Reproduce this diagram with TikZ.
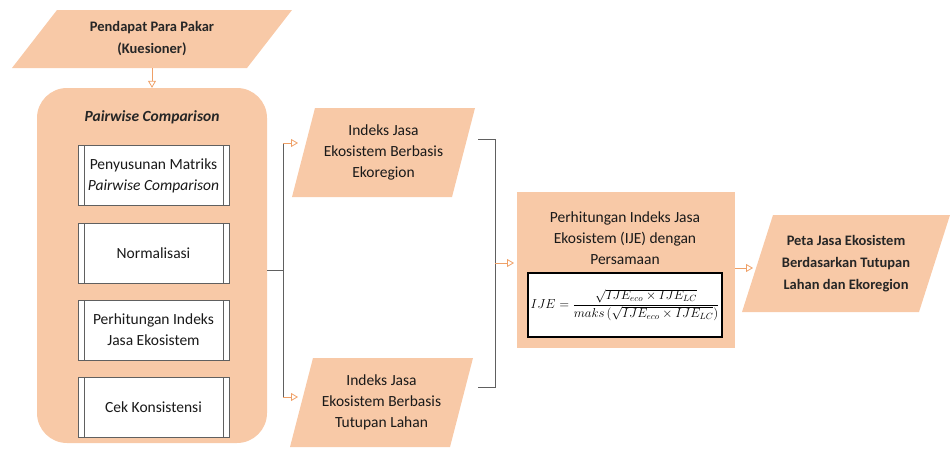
\documentclass[tikz,border=0pt]{standalone}
\usepackage{fontspec}
\setmainfont{Carlito}
\usetikzlibrary{arrows.meta}
\definecolor{peach}{HTML}{F8C9A7}
\definecolor{arrowor}{HTML}{EFA067}
\definecolor{lin}{HTML}{606060}
\begin{document}
\begin{tikzpicture}[x=1pt,y=-1pt,
  txt/.style={font=\fontsize{15.5}{21}\selectfont, align=center, text=black!90},
  btxt/.style={font=\fontsize{14.5}{22}\selectfont\bfseries, align=center, text=black!85},
  para/.style n args={3}{minimum width=#1, minimum height=#2, inner sep=0pt,
    path picture={\fill[peach] ([xshift=#3]path picture bounding box.north west)
      -- (path picture bounding box.north east)
      -- ([xshift=-#3]path picture bounding box.south east)
      -- (path picture bounding box.south west) -- cycle;}},
  procbox/.style={draw=lin, line width=0.6pt, fill=white, minimum width=151pt, minimum height=60pt, inner sep=0pt, txt,
    path picture={\draw[lin, line width=0.6pt] ([xshift=6pt]path picture bounding box.north west) -- ([xshift=6pt]path picture bounding box.south west);
      \draw[lin, line width=0.6pt] ([xshift=-6pt]path picture bounding box.north east) -- ([xshift=-6pt]path picture bounding box.south east);}},
  conn/.style={lin, line width=0.8pt},
  arr/.style={arrowor, line width=0.8pt, -{Triangle[open, length=7pt, width=8pt]}}
]
\useasboundingbox (0,0) rectangle (950,450);

% top input
\node[para={280pt}{58pt}{45pt}, btxt] (p1) at (152,39) {Pendapat Para Pakar\\(Kuesioner)};

% pairwise comparison group
\node[fill=peach, rounded corners=30pt, minimum width=230pt, minimum height=355pt, inner sep=0pt] (pc) at (152,265.5) {};
\node[font=\fontsize{15.5}{17}\selectfont\bfseries\itshape, text=black!85] (pct) at (152,117) {Pairwise Comparison};
\node[procbox] (s1) at (153.5,175.5) {Penyusunan Matriks\\\textit{Pairwise Comparison}};
\node[procbox] (s2) at (153.5,253) {Normalisasi};
\node[procbox] (s3) at (153.5,330) {Perhitungan Indeks\\Jasa Ekosistem};
\node[procbox] (s4) at (153.5,407) {Cek Konsistensi};

\draw[arr] (p1.south) -- (pc.north);

% outputs
\node[para={183pt}{89pt}{23pt}, txt] (p2) at (383.5,152.5) {Indeks Jasa\\Ekosistem Berbasis\\Ekoregion};
\node[para={183pt}{89pt}{23pt}, txt] (p3) at (381.5,402.5) {Indeks Jasa\\Ekosistem Berbasis\\Tutupan Lahan};

\coordinate (j) at (283,270);
\coordinate (jt) at (283,143);
\coordinate (jb) at (283,397);
\coordinate (a2) at (298,143);
\coordinate (a3) at (298,397);
\draw[conn] (pc.east |- j) -- (j);
\draw[conn] (jt) -- (jb);
\draw[arr] (jt) -- (a2);
\draw[arr] (jb) -- (a3);

% bracket
\coordinate (b1) at (478,139);
\coordinate (b2) at (495,139);
\coordinate (b3) at (495,387);
\coordinate (b4) at (478,387);
\coordinate (bm) at (495,263);
\coordinate (am) at (514,263);
\draw[conn] (b1) -- (b2) -- (b3) -- (b4);
\draw[arr] (bm) -- (am);

% calculation box
\node[fill=peach, minimum width=218pt, minimum height=156pt, inner sep=0pt] (r) at (626,270) {};
\node[txt, inner sep=0pt] (rt) at (625,238) {Perhitungan Indeks Jasa\\Ekosistem (IJE) dengan\\Persamaan};
\node[draw=black, line width=1.3pt, fill=white, minimum width=194pt, minimum height=64pt, inner sep=0pt, font=\fontsize{14.4}{17}\selectfont] (f) at (625,305)
  {\scalebox{0.9}{$\displaystyle IJE = \frac{\sqrt{IJE_{eco}\times IJE_{LC}}}{maks\,(\sqrt{IJE_{eco}\times IJE_{LC}})}$}};

% final output
\node[para={208pt}{97pt}{31pt}, btxt] (p4) at (846,263.5) {Peta Jasa Ekosistem\\Berdasarkan Tutupan\\Lahan dan Ekoregion};
\coordinate (c1) at (735,268);
\coordinate (c2) at (753,268);
\draw[arr] (c1) -- (c2);
\end{tikzpicture}
\end{document}
